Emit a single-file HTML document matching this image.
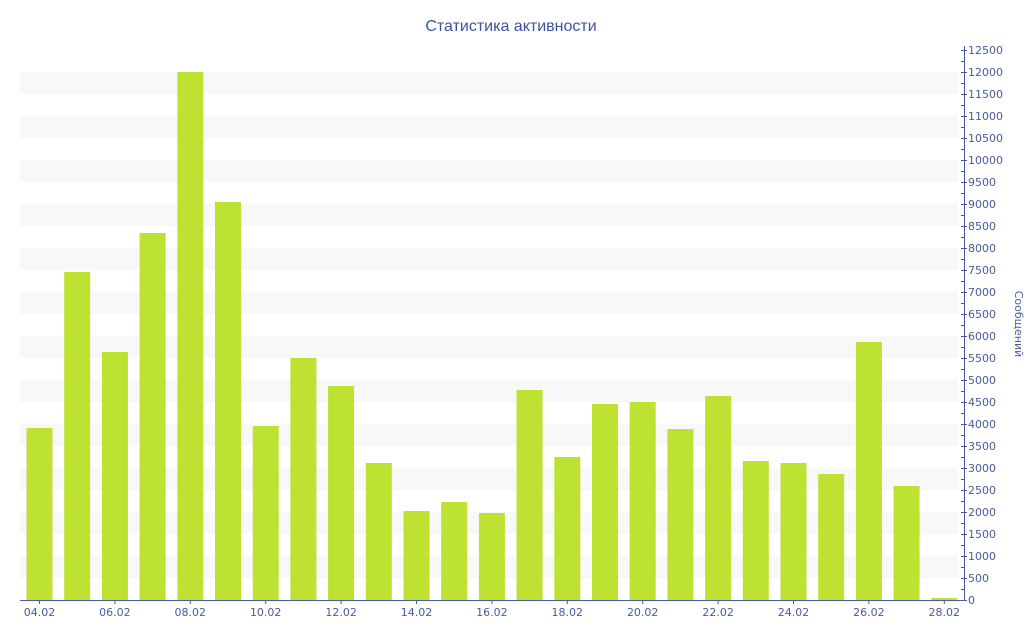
<!DOCTYPE html>
<html><head><meta charset="utf-8"><style>
html,body{margin:0;padding:0;background:#fff;}
svg{display:block;font-family:"DejaVu Sans","Liberation Sans",sans-serif;}
</style></head><body>
<svg width="1024" height="640" viewBox="0 0 1024 640" xmlns="http://www.w3.org/2000/svg">
<text x="511" y="31" text-anchor="middle" font-size="16" fill="#3d52a0" font-family="Liberation Sans, sans-serif">Статистика активности</text>
<g fill="#f8f8f8">
<rect x="20" y="72" width="938" height="22"/><rect x="20" y="116" width="938" height="22"/>
<rect x="20" y="160" width="938" height="22"/><rect x="20" y="204" width="938" height="22"/>
<rect x="20" y="248" width="938" height="22"/><rect x="20" y="292" width="938" height="22"/>
<rect x="20" y="336" width="938" height="22"/><rect x="20" y="380" width="938" height="22"/>
<rect x="20" y="424" width="938" height="22"/><rect x="20" y="468" width="938" height="22"/>
<rect x="20" y="512" width="938" height="22"/><rect x="20" y="556" width="938" height="22"/>
</g>
<g fill="#bde232">
<rect x="26.5" y="428" width="26" height="172"/>
<rect x="64.2" y="272" width="26" height="328"/>
<rect x="101.9" y="352" width="26" height="248"/>
<rect x="139.6" y="233" width="26" height="367"/>
<rect x="177.3" y="72" width="26" height="528"/>
<rect x="215" y="202" width="26" height="398"/>
<rect x="252.7" y="426" width="26" height="174"/>
<rect x="290.4" y="358" width="26" height="242"/>
<rect x="328.1" y="386" width="26" height="214"/>
<rect x="365.8" y="463" width="26" height="137"/>
<rect x="403.5" y="511" width="26" height="89"/>
<rect x="441.2" y="502" width="26" height="98"/>
<rect x="478.9" y="513" width="26" height="87"/>
<rect x="516.6" y="390" width="26" height="210"/>
<rect x="554.3" y="457" width="26" height="143"/>
<rect x="592" y="404" width="26" height="196"/>
<rect x="629.7" y="402" width="26" height="198"/>
<rect x="667.4" y="429" width="26" height="171"/>
<rect x="705.1" y="396" width="26" height="204"/>
<rect x="742.8" y="461" width="26" height="139"/>
<rect x="780.5" y="463" width="26" height="137"/>
<rect x="818.2" y="474" width="26" height="126"/>
<rect x="855.9" y="342" width="26" height="258"/>
<rect x="893.6" y="486" width="26" height="114"/>
<rect x="931.3" y="598" width="26" height="2"/>
</g>
<g stroke="#4a5aa0" stroke-width="1" fill="none">
<line x1="20" y1="600.5" x2="964" y2="600.5"/>
<line x1="964.5" y1="46" x2="964.5" y2="600"/>
<path d="M39.5 600v4M114.9 600v4M190.3 600v4M265.7 600v4M341.1 600v4M416.5 600v4M491.9 600v4M567.3 600v4M642.7 600v4M718.1 600v4M793.5 600v4M868.9 600v4M944.3 600v4"/>
<path d="M961 600.5h6M961 578.5h6M961 556.5h6M961 534.5h6M961 512.5h6M961 490.5h6M961 468.5h6M961 446.5h6M961 424.5h6M961 402.5h6M961 380.5h6M961 358.5h6M961 336.5h6M961 314.5h6M961 292.5h6M961 270.5h6M961 248.5h6M961 226.5h6M961 204.5h6M961 182.5h6M961 160.5h6M961 138.5h6M961 116.5h6M961 94.5h6M961 72.5h6M961 50.5h6"/>
<path d="M961 589.5h3M961 567.5h3M961 545.5h3M961 523.5h3M961 501.5h3M961 479.5h3M961 457.5h3M961 435.5h3M961 413.5h3M961 391.5h3M961 369.5h3M961 347.5h3M961 325.5h3M961 303.5h3M961 281.5h3M961 259.5h3M961 237.5h3M961 215.5h3M961 193.5h3M961 171.5h3M961 149.5h3M961 127.5h3M961 105.5h3M961 83.5h3M961 61.5h3"/>
</g>
<g font-size="11" fill="#4a5aa0">
<text x="968" y="604">0</text><text x="968" y="582">500</text><text x="968" y="560">1000</text>
<text x="968" y="538">1500</text><text x="968" y="516">2000</text><text x="968" y="494">2500</text>
<text x="968" y="472">3000</text><text x="968" y="450">3500</text><text x="968" y="428">4000</text>
<text x="968" y="406">4500</text><text x="968" y="384">5000</text><text x="968" y="362">5500</text>
<text x="968" y="340">6000</text><text x="968" y="318">6500</text><text x="968" y="296">7000</text>
<text x="968" y="274">7500</text><text x="968" y="252">8000</text><text x="968" y="230">8500</text>
<text x="968" y="208">9000</text><text x="968" y="186">9500</text><text x="968" y="164">10000</text>
<text x="968" y="142">10500</text><text x="968" y="120">11000</text><text x="968" y="98">11500</text>
<text x="968" y="76">12000</text><text x="968" y="54">12500</text>
</g>
<g font-size="11" fill="#4a5aa0" text-anchor="middle">
<text x="39.5" y="616">04.02</text><text x="114.9" y="616">06.02</text><text x="190.3" y="616">08.02</text>
<text x="265.7" y="616">10.02</text><text x="341.1" y="616">12.02</text><text x="416.5" y="616">14.02</text>
<text x="491.9" y="616">16.02</text><text x="567.3" y="616">18.02</text><text x="642.7" y="616">20.02</text>
<text x="718.1" y="616">22.02</text><text x="793.5" y="616">24.02</text><text x="868.9" y="616">26.02</text>
<text x="944.3" y="616">28.02</text>
</g>
<text transform="translate(1015,324) rotate(90)" text-anchor="middle" font-size="11" fill="#4a5aa0">Сообщений</text>
</svg>
</body></html>
